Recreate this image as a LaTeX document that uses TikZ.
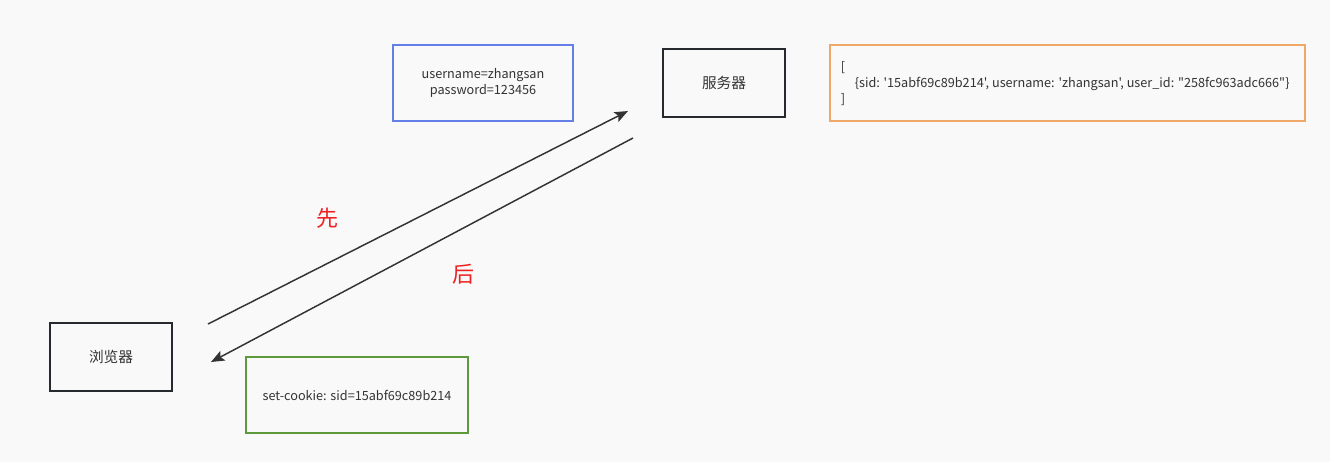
\documentclass[tikz,border=0pt]{standalone}
\usepackage{fontspec}
\setmainfont{Noto Sans CJK SC}
% same face without the TeX quote ligatures, for code-like text
\newfontfamily\codefont{Noto Sans CJK SC}
\usetikzlibrary{arrows.meta}
\definecolor{bg}{HTML}{F9F9F9}
\definecolor{ink}{HTML}{333333}
\definecolor{boxdark}{HTML}{262A2E}
\definecolor{boxblue}{HTML}{6480E6}
\definecolor{boxorange}{HTML}{F0A868}
\definecolor{boxgreen}{HTML}{5E9A3C}
\definecolor{labelred}{HTML}{EE2222}
\begin{document}
\begin{tikzpicture}[x=0.75pt,y=-0.75pt,
  entity/.style={draw=boxdark,line width=1.5pt,fill=bg,minimum width=91.5pt,minimum height=51pt,inner sep=0pt,font=\fontsize{11pt}{13pt}\selectfont,text=ink},
  note/.style={line width=1.2pt,fill=bg,inner sep=0pt,font=\fontsize{9.5pt}{11.5pt}\selectfont,text=ink,align=center},
  flow/.style={draw=ink,line width=1.1pt,-{Stealth[length=10pt,width=8pt,inset=2pt]}},
  order/.style={text=labelred,font=\fontsize{16.5pt}{18pt}\selectfont}]
  % page and background
  \fill[bg] (0,0) rectangle (1330,462);
  \useasboundingbox (0,0) rectangle (1330,462);

  % the two parties
  \node[entity] (browser) at (111,357) {浏览器};
  \node[entity] (server) at (724,83) {服务器};

  % request body, session store and response header
  \node[note,draw=boxblue,minimum width=135pt,minimum height=57pt] (login) at (483,83)
    {username=zhangsan\\password=123456};
  \node[note,draw=boxorange,minimum width=356pt,minimum height=57pt] (store) at (1067.5,83) {};
  \node[note,align=left,anchor=west,font=\codefont\fontsize{9.5pt}{12pt}\selectfont] (storetext) at (840,84)
    {[\\\hspace*{10.5pt}\{sid: '15abf69c89b214', username: 'zhangsan', user\_id: "258fc963adc666"\}\\]};
  \node[note,draw=boxgreen,minimum width=166.5pt,minimum height=57pt] (cookie) at (357,395)
    {set-cookie: sid=15abf69c89b214};

  % arrow end points
  \coordinate (reqstart) at (208,324);
  \coordinate (reqend) at (628,111);
  \coordinate (resstart) at (633,138);
  \coordinate (resend) at (211,362);
  \draw[flow] (reqstart) -- (reqend);
  \draw[flow] (resstart) -- (resend);

  % ordering labels
  \node[order] (first) at (327,218) {先};
  \node[order] (then) at (463,274) {后};
\end{tikzpicture}
\end{document}
